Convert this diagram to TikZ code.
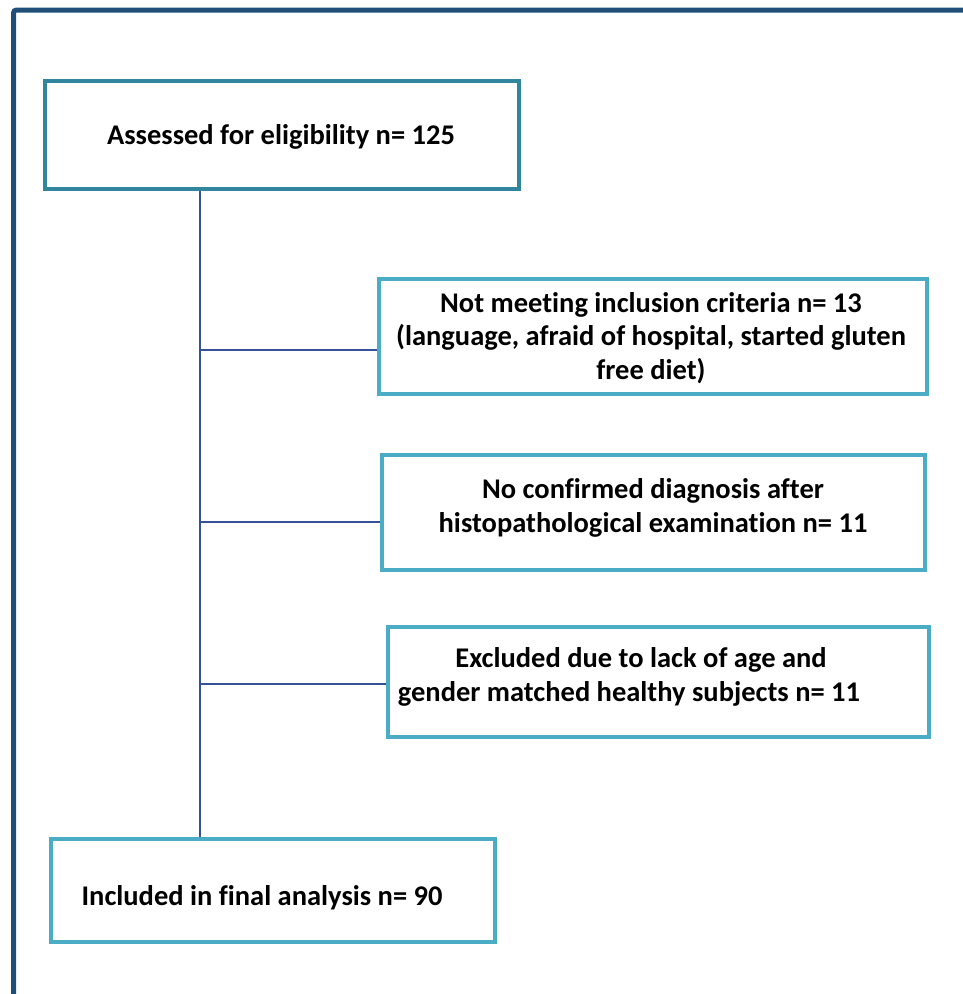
\documentclass[tikz,border=0pt]{standalone}
\usepackage{fontspec}
\setmainfont{Carlito}[Ligatures={NoCommon,NoRequired,NoContextual}]
\definecolor{framecol}{HTML}{1F4E79}
\definecolor{topbox}{HTML}{31859C}
\definecolor{boxcol}{HTML}{4BACC6}
\definecolor{conncol}{HTML}{34529A}
\begin{document}
\begin{tikzpicture}[x=1pt,y=-1pt,
  box/.style={draw=boxcol, line width=4pt, rectangle, inner sep=0pt, fill=white},
  txt/.style={font=\fontsize{28.5}{33.5}\selectfont\bfseries, align=center, inner sep=0pt, text=black},
  conn/.style={draw=conncol, line width=1.3pt},
  framestyle/.style={draw=framecol, line width=5pt, rounded corners=3pt}]
\useasboundingbox (0,0) rectangle (963,994);
\draw[framestyle] (13.5,1010) -- (13.5,10) -- (980,10);
% boxes
\node[box, draw=topbox, minimum width=474pt, minimum height=108pt] (b1) at (282,135) {};
\node[box, minimum width=548pt, minimum height=115pt] (b2) at (653,336.5) {};
\node[box, minimum width=543pt, minimum height=115pt] (b3) at (653.5,512.5) {};
\node[box, minimum width=541pt, minimum height=110pt] (b4) at (658.5,682) {};
\node[box, minimum width=444pt, minimum height=103pt] (b5) at (273,890.5) {};
% texts
\node[txt] (t1) at (281,137) {Assessed for eligibility n= 125};
\node[txt] (t2) at (651,338) {Not meeting inclusion criteria n= 13\\(language, afraid of hospital, started gluten\\free diet)};
\node[txt] (t3) at (653,508) {No confirmed diagnosis after\\histopathological examination n= 11};
\node[txt] (t4) at (641,677) {Excluded due to lack of age and\\gender matched healthy subjects n= 11\kern24pt};
\node[txt] (t5) at (262,898) {Included in final analysis n= 90};
% connectors
\coordinate (tr) at (200,0);
\coordinate (j2) at (200,350);
\coordinate (j3) at (200,522);
\coordinate (j4) at (200,684);
\draw[conn] (b1.south -| tr) -- (b5.north -| tr);
\draw[conn] (j2) -- (j2 -| b2.west);
\draw[conn] (j3) -- (j3 -| b3.west);
\draw[conn] (j4) -- (j4 -| b4.west);
\end{tikzpicture}
\end{document}
